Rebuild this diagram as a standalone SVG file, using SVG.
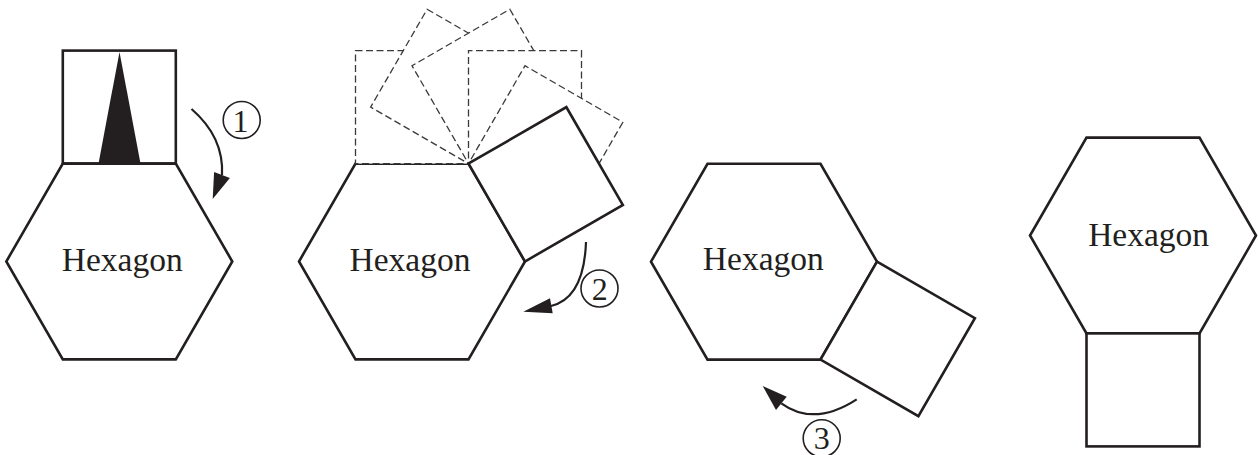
<svg xmlns="http://www.w3.org/2000/svg" width="1258" height="455" viewBox="0 0 1258 455">
<style>
.shape{fill:#fff;stroke:#231f20;stroke-width:2.6;stroke-linejoin:miter}
.dash{fill:#fff;stroke:#3a3a3a;stroke-width:1.3;stroke-dasharray:7 3.5}
.lbl{font-family:"Liberation Serif","Times New Roman",serif;font-size:33.5px;fill:#231f20;text-anchor:middle}
.num{font-family:"Liberation Serif","Times New Roman",serif;font-size:32px;fill:#231f20;text-anchor:middle}
.ring{fill:none;stroke:#231f20;stroke-width:1.6}
.arc{fill:none;stroke:#231f20;stroke-width:2.2}
.head{fill:#231f20;stroke:none}
</style>
<rect width="1258" height="455" fill="#fff"/>

<g id="stage1">
  <rect class="shape" x="62.8" y="50.6" width="113" height="113"/>
  <polygon class="head" points="119.5,52 98.5,163.6 140.5,163.6"/>
  <polygon class="shape" points="62.8,163.6 175.8,163.6 232.3,261.5 175.8,359.4 62.8,359.4 6.3,261.5"/>
  <text class="lbl" x="122.2" y="271">Hexagon</text>
</g>

<g id="stage2">
  <polygon class="shape" points="355.5,163.6 468.5,163.6 525,261.5 468.5,359.4 355.5,359.4 299,261.5"/>
  <rect class="dash" x="355.5" y="50.6" width="113" height="113"/>
  <rect class="dash" x="355.5" y="50.6" width="113" height="113" transform="rotate(30 468.5 163.6)"/>
  <rect class="dash" x="355.5" y="50.6" width="113" height="113" transform="rotate(60 468.5 163.6)"/>
  <rect class="dash" x="355.5" y="50.6" width="113" height="113" transform="rotate(90 468.5 163.6)"/>
  <rect class="dash" x="355.5" y="50.6" width="113" height="113" transform="rotate(120 468.5 163.6)"/>
  <rect class="shape" x="355.5" y="50.6" width="113" height="113" transform="rotate(150 468.5 163.6)"/>
  <text class="lbl" x="410" y="271">Hexagon</text>
</g>

<g id="stage3">
  <polygon class="shape" points="707.5,163.8 820.5,163.8 877,261.7 820.5,359.6 707.5,359.6 651,261.7"/>
  <polygon class="shape" points="877,261.7 974.9,318.2 918.4,416.1 820.5,359.6"/>
  <text class="lbl" x="763.3" y="270">Hexagon</text>
</g>

<g id="stage4">
  <polygon class="shape" points="1086.5,137.6 1199.5,137.6 1256,235.5 1199.5,333.4 1086.5,333.4 1030,235.5"/>
  <rect class="shape" x="1086.5" y="333.4" width="113" height="113"/>
  <text class="lbl" x="1148.6" y="246">Hexagon</text>
</g>

<g id="connectors">
  <path class="arc" d="M191.5,109 Q224,137 222,175"/>
  <polygon class="head" points="212.7,199 214.1,171.9 229.9,178.1"/>
  <path class="arc" d="M586,242 Q584,298 551,306"/>
  <polygon class="head" points="523.3,311.7 550,298.3 552.7,313.3"/>
  <path class="arc" d="M856.7,399.3 Q814,427 781.3,403.3"/>
  <polygon class="head" points="762.7,386 776,410 786.7,396.7"/>
</g>

<g id="step1">
  <circle class="ring" cx="241.7" cy="120" r="18.5"/>
  <text class="num" x="240.5" y="132">1</text>
</g>
<g id="step2">
  <circle class="ring" cx="599.5" cy="288.5" r="18.5"/>
  <text class="num" x="599.7" y="300">2</text>
</g>
<g id="step3">
  <circle class="ring" cx="821.7" cy="438.3" r="18.5"/>
  <text class="num" x="821.7" y="449">3</text>
</g>
</svg>
